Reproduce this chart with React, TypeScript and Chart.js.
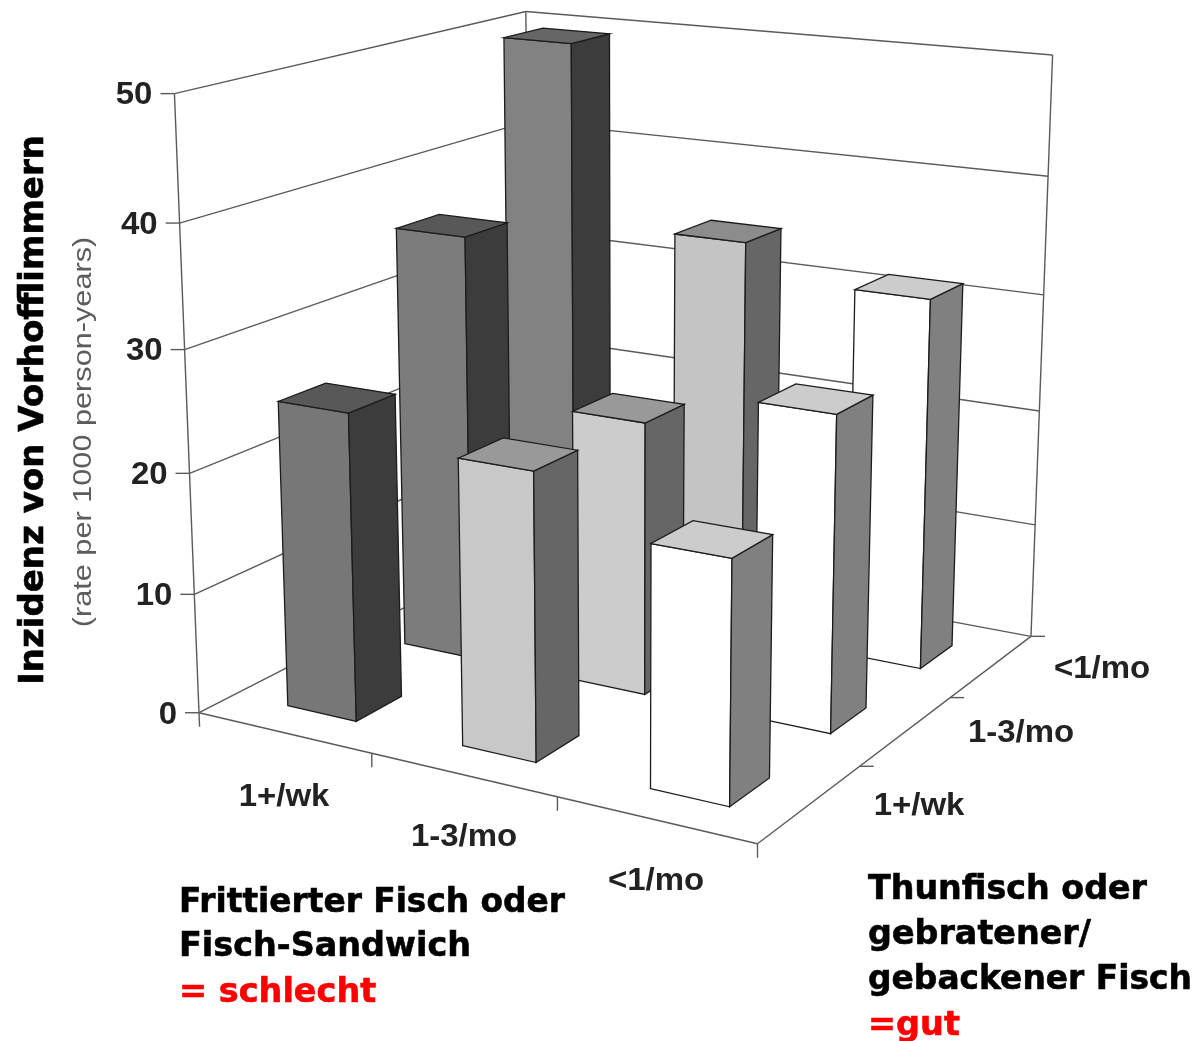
import React, { useEffect, useRef } from "react";
import { Chart, BarController, BarElement, CategoryScale, LinearScale } from "chart.js";

const fishFried = ["1+/wk", "1-3/mo", "<1/mo"];
const fishTuna = ["1+/wk", "1-3/mo", "<1/mo"];
const tuna1wk = [25.4, 23.3, 19.3];
const tuna13mo = [36.1, 22.9, 26];
const tunaLt1mo = [49.6, 34.3, 31.5];
const valueTicks = [0, 10, 20, 30, 40, 50];
const yTitle = "Inzidenz von Vorhofflimmern";
const ySub = "(rate per 1000 person-years)";

const CORNERS: [number, number, number, number, number][] = [
  [0, 0, 0, 199, 714], [1, 0, 0, 757, 843], [0, 1, 0, 531, 542], [0, 0, 1, 175, 93],
  [1, 1, 0, 1031, 637], [0, 1, 1, 525, 12], [1, 1, 1, 1053, 55],
];

function fitProjection() {
  const A: number[][] = [];
  const b: number[] = [];
  for (const [X, Y, Z, u, v] of CORNERS) {
    A.push([X, Y, Z, 1, 0, 0, 0, 0, -u * X, -u * Y, -u * Z]); b.push(u);
    A.push([0, 0, 0, 0, X, Y, Z, 1, -v * X, -v * Y, -v * Z]); b.push(v);
  }
  const n = 11;
  const M: number[][] = [];
  for (let i = 0; i < n; i++) {
    const row = new Array(n + 1).fill(0);
    for (let j = 0; j < n; j++) for (let k = 0; k < A.length; k++) row[j] += A[k][i] * A[k][j];
    for (let k = 0; k < A.length; k++) row[n] += A[k][i] * b[k];
    M.push(row);
  }
  for (let i = 0; i < n; i++) {
    let p = i;
    for (let r = i + 1; r < n; r++) if (Math.abs(M[r][i]) > Math.abs(M[p][i])) p = r;
    [M[i], M[p]] = [M[p], M[i]];
    for (let r = 0; r < n; r++) {
      if (r === i) continue;
      const f = M[r][i] / M[i][i];
      for (let c = i; c <= n; c++) M[r][c] -= f * M[i][c];
    }
  }
  const h = M.map((r, i) => r[n] / r[i]);
  return (X: number, Y: number, Z: number): [number, number] => {
    const w = h[8] * X + h[9] * Y + h[10] * Z + 1;
    return [(h[0] * X + h[1] * Y + h[2] * Z + h[3]) / w, (h[4] * X + h[5] * Y + h[6] * Z + h[7]) / w];
  };
}
const project = fitProjection();

const FACE_COLORS = [
  [["#777777", "#3c3c3c", "#585858"], ["#c8c8c8", "#666666", "#999999"], ["#ffffff", "#808080", "#cccccc"]],
  [["#7c7c7c", "#3c3c3c", "#585858"], ["#cccccc", "#666666", "#999999"], ["#ffffff", "#808080", "#cccccc"]],
  [["#828282", "#3c3c3c", "#666666"], ["#c4c4c4", "#666666", "#8c8c8c"], ["#ffffff", "#808080", "#cccccc"]],
];
const BAR_X: [number, number] = [0.31, 0.71];
const BAR_Y: [number, number] = [0.29, 0.67];

function poly(ctx: CanvasRenderingContext2D, pts: [number, number][], fill?: string, stroke = "#1c1c1c", lw = 1.3) {
  ctx.beginPath();
  pts.forEach((p, i) => (i ? ctx.lineTo(p[0], p[1]) : ctx.moveTo(p[0], p[1])));
  ctx.closePath();
  if (fill) { ctx.fillStyle = fill; ctx.fill(); }
  ctx.strokeStyle = stroke; ctx.lineWidth = lw; ctx.stroke();
}

const frac = (s: any, v: number) => s.getDecimalForPixel(s.getPixelForValue(v));

function wideText(ctx: CanvasRenderingContext2D, t: string, x: number, y: number, sx: number) {
  ctx.save();
  ctx.translate(x, y);
  ctx.scale(sx, 1);
  ctx.fillText(t, 0, 0);
  ctx.restore();
}

class Bar3D extends BarController {
  static id = "bar3d";
  static defaults = { ...BarController.defaults };
  draw() {
    const chart = this.chart;
    const ctx = chart.ctx;
    const yScale: any = chart.scales.y;
    const row = this.index;
    const values = chart.data.datasets[row].data as number[];
    const nx = values.length;
    const ny = chart.data.datasets.length;
    ctx.save();
    for (let i = nx - 1; i >= 0; i--) {
      const x0 = (i + BAR_X[0]) / nx, x1 = (i + BAR_X[1]) / nx;
      const y0 = (row + BAR_Y[0]) / ny, y1 = (row + BAR_Y[1]) / ny;
      const z = frac(yScale, values[i]);
      const [front, side, top] = FACE_COLORS[row][i];
      poly(ctx, [project(x0, y0, 0), project(x1, y0, 0), project(x1, y0, z), project(x0, y0, z)], front);
      poly(ctx, [project(x1, y0, 0), project(x1, y1, 0), project(x1, y1, z), project(x1, y0, z)], side);
      poly(ctx, [project(x0, y0, z), project(x1, y0, z), project(x1, y1, z), project(x0, y1, z)], top);
    }
    ctx.restore();
  }
}

const walls = {
  id: "walls",
  beforeDatasetsDraw(chart: any) {
    const ctx: CanvasRenderingContext2D = chart.ctx;
    const y = chart.scales.y;
    ctx.save();
    ctx.lineCap = "butt";
    const line = (a: [number, number], b: [number, number], c = "#5a5a5a", w = 1.4) => {
      ctx.beginPath(); ctx.moveTo(a[0], a[1]); ctx.lineTo(b[0], b[1]);
      ctx.strokeStyle = c; ctx.lineWidth = w; ctx.stroke();
    };
    for (const t of valueTicks) {
      const z = frac(y, t);
      const p = project(0, 0, z);
      line(p, project(0, 1, z));
      line(project(0, 1, z), project(1, 1, z));
      line([p[0] - 14, p[1]], [p[0], p[1]]);
      ctx.fillStyle = "#222";
      ctx.font = "bold 32px 'Liberation Sans'";
      ctx.textAlign = "right";
      ctx.textBaseline = "middle";
      wideText(ctx, String(t), p[0] - 22, p[1] + 2, 1.03);
    }
    line(project(0, 1, 0), project(0, 1, 1));
    line(project(1, 1, 0), project(1, 1, 1));
    const o = project(0, 0, 0);
    line([o[0] + 0.5, o[1] + 14], project(0, 0, 1));
    line(o, project(1, 0, 0));
    line(project(1, 0, 0), project(1, 1, 0));
    for (let i = 1; i <= 3; i++) {
      const p = project(i / 3, 0, 0);
      line(p, [p[0], p[1] + 14]);
      const q = project(1, i / 3, 0);
      line(q, [q[0] + 14, q[1]]);
    }
    ctx.fillStyle = "#222";
    ctx.font = "bold 32px 'Liberation Sans'";
    ctx.textAlign = "center";
    ctx.textBaseline = "middle";
    const xPos: [number, number][] = [[284, 797], [464, 837], [656, 881]];
    const yPos: [number, number][] = [[919, 806], [1021, 733], [1102, 669]];
    fishFried.forEach((t, i) => wideText(ctx, t, xPos[i][0], xPos[i][1], 1.03));
    fishTuna.forEach((t, i) => wideText(ctx, t, yPos[i][0], yPos[i][1], 1.03));
    ctx.restore();
  },
};

const captions = {
  id: "captions",
  afterDraw(chart: any) {
    const ctx: CanvasRenderingContext2D = chart.ctx;
    ctx.save();
    ctx.textAlign = "left";
    ctx.textBaseline = "middle";
    ctx.lineWidth = 0.6;
    const txt = (t: string, x: number, y: number, width: number, c = "#000", f = "bold 33.5px 'DejaVu Sans'") => {
      ctx.fillStyle = c; ctx.strokeStyle = c; ctx.font = f;
      ctx.fillText(t, x, y, width);
      ctx.strokeText(t, x, y, width);
    };
    txt("Frittierter Fisch oder", 179, 903, 386);
    txt("Fisch-Sandwich", 179, 947, 292);
    txt("= schlecht", 179, 993, 198, "#ff0000");
    txt("Thunfisch oder", 868, 890, 279);
    txt("gebratener/", 868, 935, 223);
    txt("gebackener Fisch", 868, 980, 324);
    txt("=gut", 868, 1026, 94, "#ff0000");
    ctx.translate(34, 410); ctx.rotate(-Math.PI / 2); ctx.textAlign = "center";
    txt(yTitle, 0, 0, 550, "#000", "bold 34px 'DejaVu Sans'");
    ctx.setTransform(1, 0, 0, 1, 0, 0);
    ctx.translate(84, 432); ctx.rotate(-Math.PI / 2); ctx.textAlign = "center";
    ctx.fillStyle = "#5c5c5c"; ctx.font = "26px 'Liberation Sans'";
    wideText(ctx, ySub, 0, 0, 1.18);
    ctx.restore();
  },
};

Chart.register(Bar3D as any, BarElement, CategoryScale, LinearScale);

export default function App() {
  const ref = useRef<HTMLCanvasElement>(null);
  useEffect(() => {
    document.body.style.margin = "0";
    const chart = new Chart(ref.current!, {
      type: "bar3d" as any,
      data: {
        labels: fishFried,
        datasets: [
          { label: fishTuna[0], data: tuna1wk },
          { label: fishTuna[1], data: tuna13mo },
          { label: fishTuna[2], data: tunaLt1mo },
        ] as any,
      },
      options: {
        animation: false,
        responsive: false,
        layout: { padding: 0 },
        plugins: { legend: { display: false }, title: { display: false }, tooltip: { enabled: false } } as any,
        scales: {
          x: { type: "category", display: false },
          y: { type: "linear", display: false, min: 0, max: 50, ticks: { stepSize: 10 } },
        },
      } as any,
      plugins: [walls, captions],
    });
    return () => chart.destroy();
  }, []);
  return <canvas ref={ref} width={1198} height={1041} style={{ display: "block" }} />;
}
